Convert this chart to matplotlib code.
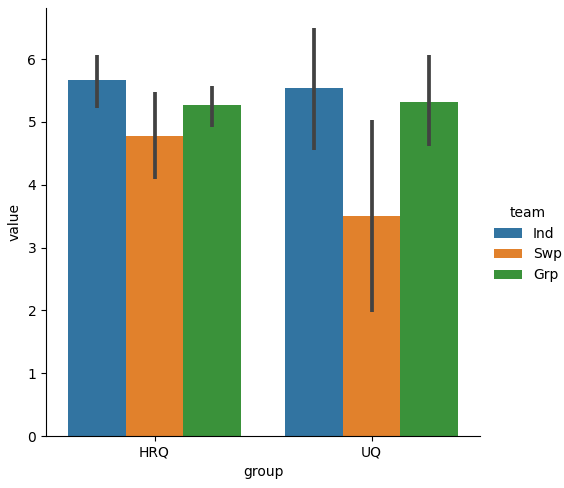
import numpy as np
from matplotlib import pyplot as plt
from matplotlib.patches import Patch

# Data (bar heights = means, whiskers = CI)
groups = ['HRQ', 'UQ']
teams = ['Ind', 'Swp', 'Grp']
means = {
    'Ind': [5.67, 5.54],
    'Swp': [4.78, 3.51],
    'Grp': [5.27, 5.31],
}
ci_low = {
    'Ind': [5.23, 4.55],
    'Swp': [4.09, 1.97],
    'Grp': [4.92, 4.62],
}
ci_high = {
    'Ind': [6.07, 6.49],
    'Swp': [5.47, 5.03],
    'Grp': [5.58, 6.07],
}

# seaborn's desaturated tab10 colours
colors = ['#3274a1', '#e1812c', '#3a923a']


def main():
    fig = plt.figure(figsize=(5.64, 4.88), dpi=100)
    ax = fig.add_axes([46 / 564, 52 / 488, 434 / 564, 428 / 488])

    x = np.arange(len(groups))
    width = 0.8 / len(teams)
    for i, team in enumerate(teams):
        pos = x - 0.4 + width * (i + 0.5)
        ax.bar(pos, means[team], width=width, color=colors[i], edgecolor='none', label=team)
        ax.vlines(pos, ci_low[team], ci_high[team], color='#424242', linewidth=2.7)

    ax.set_xlim(-0.5, len(groups) - 0.5)
    ax.set_ylim(bottom=0)
    ax.set_xticks(x)
    ax.set_xticklabels(groups)
    ax.set_xlabel('group')
    ax.set_ylabel('value')
    ax.spines['top'].set_visible(False)
    ax.spines['right'].set_visible(False)

    handles = [Patch(facecolor=c, edgecolor='none') for c in colors]
    fig.legend(handles, teams, title='team', frameon=False,
               loc='center left', bbox_to_anchor=(0.854, 0.5))

    fig.savefig('out.png', dpi=100)


if __name__ == "__main__":
    main()
